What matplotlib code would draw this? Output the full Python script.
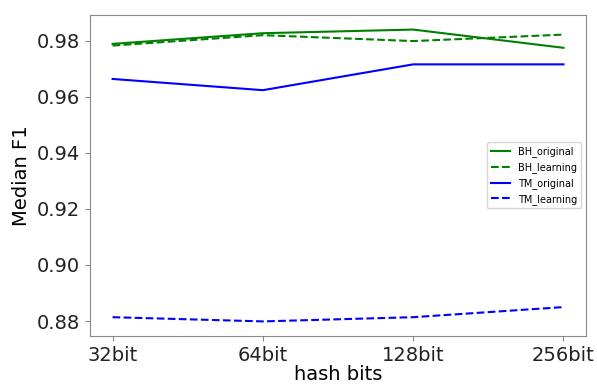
import matplotlib
matplotlib.use('Agg')
import matplotlib.pyplot as plt

bits = ['32bit', '64bit', '128bit', '256bit']
bh_original = [0.9788, 0.9826, 0.9839, 0.9774]
bh_learning = [0.9782, 0.9819, 0.9798, 0.9821]
tm_original = [0.9663, 0.9623, 0.9715, 0.9715]
tm_learning = [0.8814, 0.8799, 0.8814, 0.8850]

fig = plt.figure(figsize=(5.97, 3.85), dpi=100)
ax = fig.add_axes([0.1508, 0.1273, 0.8308, 0.8338])
x = range(len(bits))
ax.plot(x, bh_original, color='g', label='BH_original')
ax.plot(x, bh_learning, color='g', linestyle='--', label='BH_learning')
ax.plot(x, tm_original, color='b', label='TM_original')
ax.plot(x, tm_learning, color='b', linestyle='--', label='TM_learning')
ax.set_xticks(list(x))
ax.set_xticklabels(bits)
ax.set_yticks([0.88, 0.90, 0.92, 0.94, 0.96, 0.98])
ax.tick_params(labelsize=14, colors='#222222')
ax.tick_params(color='#888888')
ax.set_xlabel('hash bits', fontsize=14, labelpad=0)
ax.set_ylabel('Median F1', fontsize=14)
for s in ax.spines.values():
    s.set_color('#888888')
ax.legend(fontsize=7, loc='center right')
fig.savefig('out.png', dpi=100)
